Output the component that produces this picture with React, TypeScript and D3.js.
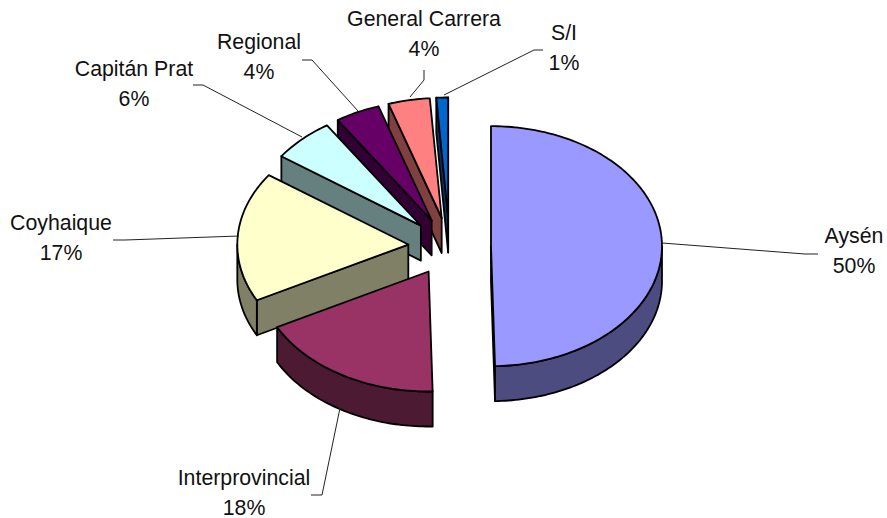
import React from "react";
import * as d3 from "d3";

const categories = ["Aysén", "Interprovincial", "Coyhaique", "Capitán Prat", "Regional", "General Carrera", "S/I"];
const values = [49.35, 17.6, 17.4, 5.9, 4.2, 3.9, 1.1];
const percentLabels = ["50%", "18%", "17%", "6%", "4%", "4%", "1%"];
const topColors = ["#9999FF", "#993366", "#FFFFCC", "#CCFFFF", "#660066", "#FF8080", "#0066CC"];
const sideColors = ["#4C4C80", "#4D1A33", "#808066", "#668080", "#330033", "#804040", "#003366"];
const labelCenters = [[854, 243], [244, 485], [61, 230], [134, 76], [259, 49], [424, 26], [564, 40]];
const leaders = [
  [[818, 254], [805, 254], [662, 243]],
  [[311, 495], [322, 495], [340, 408]],
  [[113, 240], [125, 240], [239, 236]],
  [[193, 85], [203, 85], [302, 137]],
  [[302, 60], [312, 60], [358, 111]],
  [[424, 70], [424, 80], [410, 97]],
  [[543, 50], [534, 50], [444, 95]],
];
const drawOrder = [6, 5, 4, 3, 2, 1, 0];

const CX = 449.6, CY = 246.5, RX = 171, RY = 120, DEPTH = 35, EXPLODE = 0.242;
const LINE_GAP = 30;

const pie = d3.pie<number>().sort(null).startAngle(0).endAngle(2 * Math.PI);
const arcs = pie(values);
const line = d3.line();

type P = [number, number];

function sample(a0: number, a1: number, cx: number, cy: number): P[] {
  const n = Math.max(2, Math.ceil(Math.abs(a1 - a0) / 0.02));
  return d3.range(n + 1).map((i) => {
    const t = a0 + ((a1 - a0) * i) / n;
    return [cx + RX * Math.sin(t), cy - RY * Math.cos(t)] as P;
  });
}

function Slice({ i }: { i: number }) {
  const { startAngle: a0, endAngle: a1 } = arcs[i];
  const m = (a0 + a1) / 2;
  const cx = CX + EXPLODE * RX * Math.sin(m);
  const cy = CY - EXPLODE * RY * Math.cos(m);
  const rim = sample(a0, a1, cx, cy);
  const down = (p: P): P => [p[0], p[1] + DEPTH];
  const apex: P = [cx, cy];
  const quad = (a: P, b: P) => line([a, b, down(b), down(a)]) + "Z";
  const w0 = Math.max(a0, Math.PI / 2);
  const w1 = Math.min(a1, (3 * Math.PI) / 2);
  const wallPts = w1 > w0 ? sample(w0, w1, cx, cy) : [];
  const stroke = { stroke: "#000", strokeWidth: 1.8, strokeLinejoin: "round" as const };
  return (
    <g>
      {Math.sin(a0) < 0 && <path d={quad(apex, rim[0])} fill={sideColors[i]} {...stroke} />}
      {Math.sin(a1) > 0 && <path d={quad(apex, rim[rim.length - 1])} fill={sideColors[i]} {...stroke} />}
      {wallPts.length > 0 && (
        <path d={line([...wallPts, ...wallPts.map(down).reverse()]) + "Z"} fill={sideColors[i]} {...stroke} />
      )}
      <path d={line([apex, ...rim]) + "Z"} fill={topColors[i]} {...stroke} />
    </g>
  );
}

export default function App() {
  return (
    <svg
      width={887}
      height={518}
      viewBox="0 0 887 518"
      style={{ position: "absolute", left: 0, top: 0, background: "#fff" }}
      fontFamily="'Liberation Sans', Arial, sans-serif"
      fontSize={21.3}
      fill="#111"
    >
      {drawOrder.map((i) => (
        <Slice key={i} i={i} />
      ))}
      {leaders.map((pts, i) => (
        <path key={i} d={line(pts as P[]) ?? ""} fill="none" stroke="#222" strokeWidth={1} />
      ))}
      {categories.map((c, i) => (
        <text key={c} textAnchor="middle">
          <tspan x={labelCenters[i][0]} y={labelCenters[i][1]}>{c}</tspan>
          <tspan x={labelCenters[i][0]} y={labelCenters[i][1] + LINE_GAP}>{percentLabels[i]}</tspan>
        </text>
      ))}
    </svg>
  );
}
